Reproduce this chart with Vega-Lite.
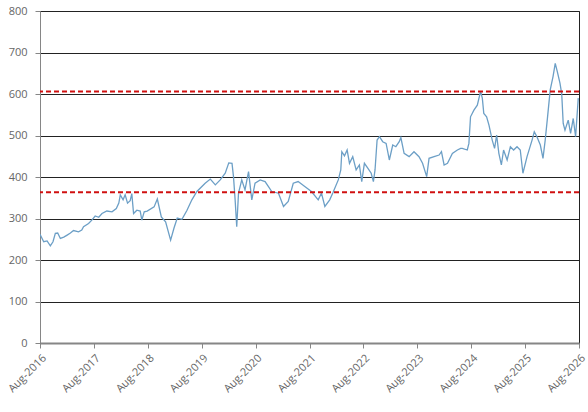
{
  "$schema": "https://vega.github.io/schema/vega-lite/v6.json",
  "width": 539,
  "height": 332,
  "autosize": {"type": "none"},
  "padding": {"left": 40, "top": 11, "right": 9, "bottom": 69},
  "background": "white",
  "datasets": {
    "series": [
      {"date": "2016-08-01", "value": 262},
      {"date": "2016-08-26", "value": 244},
      {"date": "2016-09-18", "value": 246},
      {"date": "2016-10-10", "value": 234},
      {"date": "2016-10-28", "value": 244},
      {"date": "2016-11-13", "value": 264},
      {"date": "2016-11-29", "value": 265},
      {"date": "2016-12-17", "value": 252},
      {"date": "2017-01-09", "value": 255},
      {"date": "2017-02-01", "value": 260},
      {"date": "2017-02-23", "value": 265},
      {"date": "2017-03-16", "value": 271},
      {"date": "2017-04-19", "value": 268},
      {"date": "2017-05-11", "value": 272},
      {"date": "2017-05-23", "value": 280},
      {"date": "2017-06-26", "value": 288},
      {"date": "2017-07-18", "value": 296},
      {"date": "2017-08-10", "value": 306},
      {"date": "2017-09-03", "value": 303},
      {"date": "2017-09-25", "value": 312},
      {"date": "2017-10-28", "value": 318},
      {"date": "2017-12-02", "value": 316},
      {"date": "2017-12-31", "value": 324},
      {"date": "2018-01-17", "value": 337},
      {"date": "2018-01-27", "value": 357},
      {"date": "2018-02-15", "value": 345},
      {"date": "2018-03-01", "value": 357},
      {"date": "2018-03-17", "value": 337},
      {"date": "2018-04-04", "value": 343},
      {"date": "2018-04-15", "value": 360},
      {"date": "2018-04-27", "value": 312},
      {"date": "2018-05-19", "value": 320},
      {"date": "2018-06-11", "value": 318},
      {"date": "2018-06-22", "value": 296},
      {"date": "2018-07-08", "value": 316},
      {"date": "2018-07-28", "value": 318},
      {"date": "2018-09-13", "value": 328},
      {"date": "2018-10-05", "value": 347},
      {"date": "2018-11-01", "value": 304},
      {"date": "2018-11-30", "value": 292},
      {"date": "2019-01-03", "value": 248},
      {"date": "2019-01-26", "value": 277},
      {"date": "2019-02-17", "value": 301},
      {"date": "2019-03-21", "value": 298},
      {"date": "2019-04-24", "value": 320},
      {"date": "2019-05-27", "value": 345},
      {"date": "2019-06-30", "value": 365},
      {"date": "2019-08-25", "value": 385},
      {"date": "2019-09-29", "value": 395},
      {"date": "2019-11-02", "value": 381},
      {"date": "2019-12-05", "value": 393},
      {"date": "2020-01-08", "value": 409},
      {"date": "2020-02-01", "value": 434},
      {"date": "2020-02-23", "value": 433},
      {"date": "2020-03-04", "value": 401},
      {"date": "2020-03-15", "value": 345},
      {"date": "2020-03-26", "value": 280},
      {"date": "2020-04-07", "value": 361},
      {"date": "2020-04-29", "value": 393},
      {"date": "2020-05-21", "value": 369},
      {"date": "2020-06-14", "value": 413},
      {"date": "2020-07-06", "value": 345},
      {"date": "2020-07-28", "value": 385},
      {"date": "2020-09-01", "value": 393},
      {"date": "2020-10-04", "value": 389},
      {"date": "2020-10-27", "value": 377},
      {"date": "2020-11-18", "value": 365},
      {"date": "2021-01-03", "value": 361},
      {"date": "2021-02-06", "value": 329},
      {"date": "2021-03-10", "value": 341},
      {"date": "2021-04-13", "value": 385},
      {"date": "2021-05-16", "value": 389},
      {"date": "2021-06-30", "value": 377},
      {"date": "2021-08-14", "value": 365},
      {"date": "2021-09-29", "value": 345},
      {"date": "2021-10-21", "value": 361},
      {"date": "2021-11-13", "value": 329},
      {"date": "2021-12-16", "value": 345},
      {"date": "2022-01-08", "value": 363},
      {"date": "2022-02-12", "value": 393},
      {"date": "2022-03-01", "value": 417},
      {"date": "2022-03-08", "value": 461},
      {"date": "2022-03-26", "value": 451},
      {"date": "2022-04-13", "value": 465},
      {"date": "2022-04-29", "value": 433},
      {"date": "2022-05-21", "value": 449},
      {"date": "2022-06-13", "value": 417},
      {"date": "2022-07-05", "value": 429},
      {"date": "2022-07-21", "value": 389},
      {"date": "2022-08-08", "value": 433},
      {"date": "2022-09-01", "value": 421},
      {"date": "2022-09-23", "value": 409},
      {"date": "2022-10-08", "value": 389},
      {"date": "2022-10-19", "value": 417},
      {"date": "2022-11-02", "value": 489},
      {"date": "2022-11-18", "value": 497},
      {"date": "2022-12-10", "value": 485},
      {"date": "2023-01-02", "value": 481},
      {"date": "2023-01-24", "value": 441},
      {"date": "2023-02-16", "value": 477},
      {"date": "2023-03-09", "value": 473},
      {"date": "2023-04-01", "value": 485},
      {"date": "2023-04-12", "value": 495},
      {"date": "2023-05-04", "value": 457},
      {"date": "2023-06-07", "value": 449},
      {"date": "2023-07-10", "value": 461},
      {"date": "2023-08-13", "value": 449},
      {"date": "2023-09-06", "value": 433},
      {"date": "2023-10-04", "value": 401},
      {"date": "2023-10-20", "value": 445},
      {"date": "2023-11-23", "value": 449},
      {"date": "2023-12-27", "value": 453},
      {"date": "2024-01-12", "value": 461},
      {"date": "2024-01-30", "value": 429},
      {"date": "2024-02-22", "value": 433},
      {"date": "2024-03-26", "value": 457},
      {"date": "2024-04-29", "value": 465},
      {"date": "2024-05-21", "value": 469},
      {"date": "2024-06-01", "value": 469},
      {"date": "2024-07-05", "value": 465},
      {"date": "2024-07-16", "value": 481},
      {"date": "2024-07-27", "value": 545},
      {"date": "2024-08-19", "value": 561},
      {"date": "2024-09-11", "value": 573},
      {"date": "2024-10-03", "value": 606},
      {"date": "2024-10-15", "value": 590},
      {"date": "2024-10-25", "value": 553},
      {"date": "2024-11-13", "value": 545},
      {"date": "2024-11-29", "value": 525},
      {"date": "2024-12-21", "value": 489},
      {"date": "2025-01-06", "value": 469},
      {"date": "2025-01-20", "value": 501},
      {"date": "2025-02-04", "value": 457},
      {"date": "2025-02-21", "value": 429},
      {"date": "2025-03-08", "value": 465},
      {"date": "2025-04-01", "value": 441},
      {"date": "2025-04-23", "value": 473},
      {"date": "2025-05-15", "value": 465},
      {"date": "2025-06-07", "value": 473},
      {"date": "2025-06-29", "value": 465},
      {"date": "2025-07-17", "value": 409},
      {"date": "2025-08-14", "value": 449},
      {"date": "2025-09-17", "value": 489},
      {"date": "2025-10-02", "value": 509},
      {"date": "2025-10-20", "value": 497},
      {"date": "2025-11-12", "value": 477},
      {"date": "2025-11-30", "value": 445},
      {"date": "2025-12-15", "value": 489},
      {"date": "2025-12-31", "value": 545},
      {"date": "2026-01-18", "value": 610},
      {"date": "2026-02-06", "value": 642},
      {"date": "2026-02-21", "value": 674},
      {"date": "2026-03-07", "value": 654},
      {"date": "2026-03-25", "value": 626},
      {"date": "2026-04-06", "value": 600},
      {"date": "2026-04-16", "value": 529},
      {"date": "2026-04-28", "value": 513},
      {"date": "2026-05-20", "value": 537},
      {"date": "2026-06-05", "value": 505},
      {"date": "2026-06-23", "value": 541},
      {"date": "2026-07-09", "value": 497},
      {"date": "2026-07-27", "value": 590}
    ],
    "levels": [
      {"level": 606},
      {"level": 363}
    ]
  },
  "config": {
    "view": {"stroke": "#222222", "strokeWidth": 1},
    "axis": {
      "labelFont": "Open Sans",
      "labelFontSize": 11,
      "labelColor": "#666666",
      "domainColor": "#868686",
      "tickColor": "#868686",
      "title": null
    }
  },
  "layer": [
    {
      "data": {"name": "series"},
      "mark": {"type": "line", "color": "#6c9fc6", "strokeWidth": 1.3, "clip": true},
      "encoding": {
        "x": {
          "field": "date",
          "type": "temporal",
          "scale": {"domain": ["2016-08-01", "2026-08-01"]},
          "axis": {
            "values": ["2016-08-01", "2017-08-01", "2018-08-01", "2019-08-01", "2020-08-01", "2021-08-01", "2022-08-01", "2023-08-01", "2024-08-01", "2025-08-01", "2026-08-01"],
            "format": "%b-%Y",
            "labelAngle": -45,
            "grid": false,
            "domainWidth": 2,
            "tickSize": 5,
            "labelPadding": 4
          }
        },
        "y": {
          "field": "value",
          "type": "quantitative",
          "scale": {"domain": [0, 800]},
          "axis": {
            "values": [0, 100, 200, 300, 400, 500, 600, 700, 800],
            "grid": true,
            "gridColor": "#222222",
            "gridOpacity": 1,
            "tickSize": 5,
            "labelPadding": 8
          }
        }
      }
    },
    {
      "data": {"name": "levels"},
      "mark": {"type": "rule", "color": "#d01010", "strokeWidth": 2, "strokeDash": [5, 3]},
      "encoding": {
        "y": {"field": "level", "type": "quantitative"}
      }
    }
  ]
}
